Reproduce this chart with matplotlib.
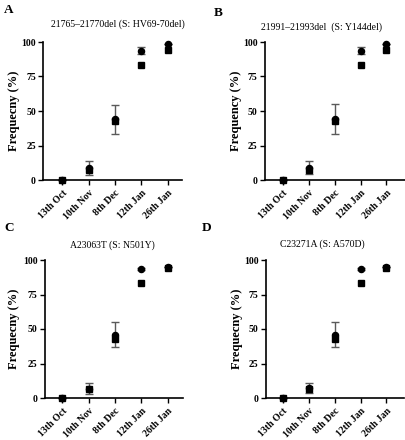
import matplotlib
matplotlib.use("Agg")
import matplotlib.pyplot as plt
import numpy as np

plt.rcParams['font.family'] = ['Liberation Serif', 'DejaVu Serif']

dates = ["13th Oct", "10th Nov", "8th Dec", "12th Jan", "26th Jan"]
yticks = [0, 25, 50, 75, 100]

titles = ["21765\u201321770del (S: HV69-70del)",
          "21991\u201321993del  (S: Y144del)",
          "A23063T (S: N501Y)",
          "C23271A (S: A570D)"]
letters = ["A", "B", "C", "D"]
ylabels = ["Frequecny (%)", "Frequency (%)", "Frequecny (%)", "Frequecny (%)"]

# circle series (mean with error bars)
circ_A = [0, 8.5, 43.9, 93.6, 98.4]
err_A = [0, 5.0, 10.8, 2.6, 0]
circ_B = [0, 9.0, 44.3, 93.6, 98.5]
err_B = [0, 5.0, 10.9, 2.5, 0]
circ_C = [0, 6.8, 46.0, 93.3, 94.8]
err_C = [0, 3.8, 9.0, 0.8, 0]
circ_D = [0, 7.2, 46.0, 93.4, 94.8]
err_D = [0, 3.6, 9.0, 0.8, 0]

# square series
sq_A = [0, 7.2, 42.8, 83.3, 94.0]
sq_B = [0, 7.3, 42.8, 83.5, 94.0]
sq_C = [0, 6.8, 42.5, 83.2, 94.2]
sq_D = [0, 6.8, 42.5, 83.2, 94.3]

circs = [circ_A, circ_B, circ_C, circ_D]
errs = [err_A, err_B, err_C, err_D]
sqs = [sq_A, sq_B, sq_C, sq_D]

W, H = 406, 440
fig = plt.figure(figsize=(W / 100, H / 100), dpi=100)

# axes boxes in pixels: left, right, top, bottom
boxes = [(43.5, 182, 42, 180), (265, 405, 42, 180),
         (45, 183, 260, 398), (266, 404, 260, 398)]
xlims = [(-0.72, 4.55), (-0.7, 4.72), (-0.66, 4.58), (-0.66, 4.68)]
title_pos = [(118, 24), (322, 27), (112, 245), (322, 244)]
letter_pos = [(4, 10), (214, 13), (4, 228), (202, 228)]
ylab_x = [14, 236, 14, 237]

x = np.arange(len(dates))
for i in range(4):
    l, r, t, b = boxes[i]
    ax = fig.add_axes([l / W, 1 - b / H, (r - l) / W, (b - t) / H])
    ax.errorbar(x, circs[i], yerr=errs[i], fmt='none', ecolor='#5a5a5a',
                elinewidth=1.0, capsize=2.8, capthick=1.0, clip_on=False, zorder=2)
    ax.plot(x, circs[i], 'o', color='black', markersize=4.4, clip_on=False, zorder=3)
    ax.plot(x, sqs[i], 's', color='black', markersize=4.4, clip_on=False, zorder=4)
    ax.set_xlim(*xlims[i])
    ax.set_ylim(0, 100)
    ax.set_yticks(yticks)
    ax.set_yticklabels([str(v) for v in yticks], fontweight='bold', fontsize=7)
    ax.set_xticks(x)
    ax.set_xticklabels(dates, rotation=45, ha='right', rotation_mode='anchor',
                       fontweight='bold', fontsize=7)
    for s in ['top', 'right']:
        ax.spines[s].set_visible(False)
    for s in ['left', 'bottom']:
        ax.spines[s].set_linewidth(1.2)
    ax.tick_params(axis='both', direction='out', length=3.5, width=1.0, pad=2)
    ax.tick_params(axis='x', pad=2.5)
    fig.text(title_pos[i][0] / W, 1 - title_pos[i][1] / H, titles[i],
             ha='center', va='center', fontsize=7)
    fig.text(letter_pos[i][0] / W, 1 - letter_pos[i][1] / H, letters[i],
             ha='left', va='center', fontsize=9.5, fontweight='bold')
    fig.text(ylab_x[i] / W, 1 - ((t + b) / 2) / H, ylabels[i], rotation=90,
             ha='center', va='center', fontsize=9, fontweight='bold')

fig.savefig("out.png", dpi=100)
